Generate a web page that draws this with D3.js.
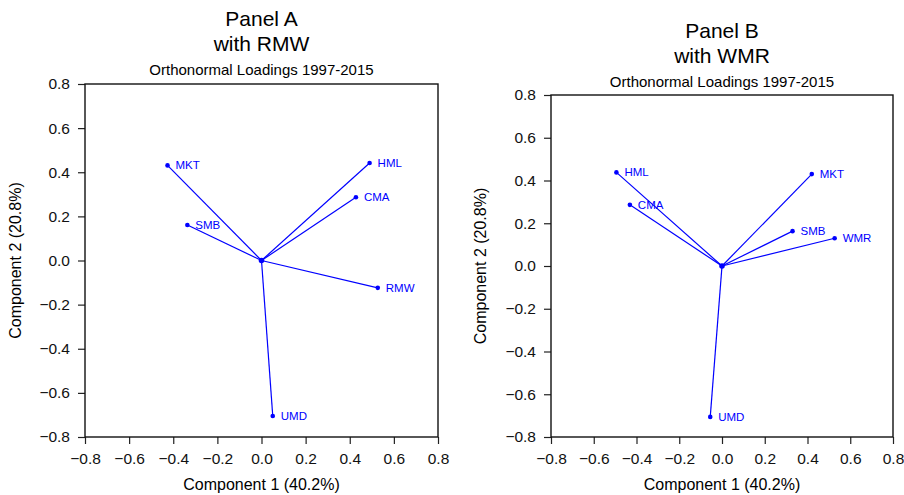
<!DOCTYPE html>
<html>
<head>
<meta charset="utf-8">
<script src="https://cdn.jsdelivr.net/npm/d3@7"></script>
<style>
  body { margin: 0; background: #fff; }
  svg { font-family: 'Liberation Sans', Arial, sans-serif; }
</style>
</head>
<body>
<svg id="chart" width="904" height="495"></svg>
<script>
// loadings
const tickValues = [-0.8, -0.6, -0.4, -0.2, 0.0, 0.2, 0.4, 0.6, 0.8]
const xLabel = 'Component 1 (40.2%)'
const yLabel = 'Component 2 (20.8%)'
const subtitle = 'Orthonormal Loadings 1997-2015'

const factorsA = ['MKT', 'HML', 'CMA', 'SMB', 'RMW', 'UMD']
const comp1A = [-0.426, 0.490, 0.428, -0.336, 0.527, 0.051]
const comp2A = [0.431, 0.442, 0.287, 0.161, -0.124, -0.705]

const factorsB = ['HML', 'CMA', 'MKT', 'SMB', 'WMR', 'UMD']
const comp1B = [-0.494, -0.431, 0.420, 0.330, 0.527, -0.055]
const comp2B = [0.438, 0.286, 0.430, 0.163, 0.130, -0.706]

const svg = d3.select('#chart')

let drawPanel = function (opt) {
  const x = d3.scaleLinear().domain([-0.8, 0.8]).range([opt.left, opt.right])
  const y = d3.scaleLinear().domain([-0.8, 0.8]).range([opt.bottom, opt.top])
  const cx = (opt.left + opt.right) / 2
  const g = svg.append('g')

  // titles
  g.append('text').attr('x', cx).attr('y', opt.titleY)
    .attr('text-anchor', 'middle').style('font-size', '21px').text(opt.title1)
  g.append('text').attr('x', cx).attr('y', opt.titleY + 25)
    .attr('text-anchor', 'middle').style('font-size', '21px').text(opt.title2)
  g.append('text').attr('x', cx).attr('y', opt.titleY + 49)
    .attr('text-anchor', 'middle').style('font-size', '15px').text(subtitle)

  const fmt = d3.format('.1f')
  g.append('g')
    .attr('transform', `translate(0,${opt.bottom})`)
    .call(d3.axisBottom(x).tickValues(tickValues).tickFormat(fmt).tickSize(7).tickPadding(9).tickSizeOuter(0))
  g.append('g')
    .attr('transform', `translate(${opt.left},0)`)
    .call(d3.axisLeft(y).tickValues(tickValues).tickFormat(fmt).tickSize(7).tickPadding(8).tickSizeOuter(0))
  g.selectAll('.domain').remove()
  g.selectAll('.tick text').style('font-size', '15.5px').attr('fill', '#111')
    .style('font-family', "'Liberation Sans', Arial, sans-serif")
  g.selectAll('.tick line').attr('stroke', '#222').attr('stroke-width', 1.2)

  g.append('rect')
    .attr('x', opt.left).attr('y', opt.top)
    .attr('width', opt.right - opt.left).attr('height', opt.bottom - opt.top)
    .attr('fill', 'none').attr('stroke', '#111').attr('stroke-width', 1.4)

  g.append('text').attr('x', cx).attr('y', 490)
    .attr('text-anchor', 'middle').style('font-size', '16px').text(xLabel)
  g.append('text')
    .attr('transform', `translate(${opt.yTitleX},${(opt.top + opt.bottom) / 2}) rotate(-90)`)
    .attr('text-anchor', 'middle').style('font-size', '16px').text(yLabel)

  const pts = opt.names.map((n, i) => ({ name: n, c1: opt.c1[i], c2: opt.c2[i] }))

  g.selectAll('line.vec').data(pts).enter().append('line')
    .attr('class', 'vec')
    .attr('x1', x(0)).attr('y1', y(0))
    .attr('x2', d => x(d.c1)).attr('y2', d => y(d.c2))
    .attr('stroke', 'blue').attr('stroke-width', 1.2)
  g.selectAll('circle.pt').data(pts).enter().append('circle')
    .attr('class', 'pt')
    .attr('cx', d => x(d.c1)).attr('cy', d => y(d.c2))
    .attr('r', 2.3).attr('fill', 'blue')
  g.append('circle').attr('cx', x(0)).attr('cy', y(0)).attr('r', 2.8).attr('fill', 'blue')
  g.selectAll('text.lab').data(pts).enter().append('text')
    .attr('class', 'lab')
    .attr('x', d => x(d.c1) + 8).attr('y', d => y(d.c2))
    .attr('dy', '0.35em')
    .style('font-size', '11.5px').attr('fill', 'blue')
    .text(d => d.name)
}

drawPanel({
  left: 85, right: 438, top: 84, bottom: 437, titleY: 26, yTitleX: 21,
  title1: 'Panel A', title2: 'with RMW', names: factorsA, c1: comp1A, c2: comp2A
})
drawPanel({
  left: 551, right: 893, top: 95, bottom: 437, titleY: 38, yTitleX: 486,
  title1: 'Panel B', title2: 'with WMR', names: factorsB, c1: comp1B, c2: comp2B
})
</script>
</body>
</html>
